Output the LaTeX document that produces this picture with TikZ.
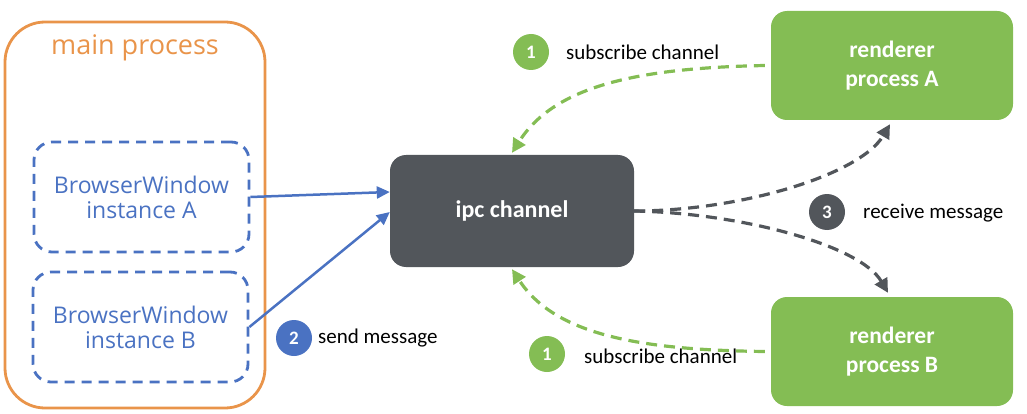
\documentclass[tikz,border=0pt]{standalone}
\usepackage{fontspec}
\setmainfont{Carlito}
\newfontfamily\segoe{Open Sans}
\usetikzlibrary{arrows.meta}
\definecolor{orangeC}{HTML}{E9944A}
\definecolor{blueC}{HTML}{4A72C2}
\definecolor{greenC}{HTML}{84BD54}
\definecolor{grayC}{HTML}{52565B}
\tikzset{
  mainbox/.style={draw=orangeC, line width=2.8pt, rounded corners=40pt},
  winbox/.style={draw=blueC, line width=2.8pt, dash pattern=on 10pt off 7pt, rounded corners=18pt, minimum width=215pt, minimum height=110pt, align=center, text=blueC, font=\segoe\fontsize{23}{25}\selectfont},
  ipcbox/.style={fill=grayC, rounded corners=16pt, minimum width=244pt, minimum height=112pt, text=white, font=\bfseries\fontsize{24}{26}\selectfont},
  rendbox/.style={fill=greenC, rounded corners=16pt, minimum width=242pt, minimum height=109pt, align=center, text=white, font=\bfseries\fontsize{23.5}{29}\selectfont},
  badge/.style={circle, minimum size=36pt, inner sep=0pt, text=white, font=\bfseries\fontsize{19}{20}\selectfont},
  lbl/.style={anchor=west, inner sep=0pt, font=\fontsize{21}{22}\selectfont},
  tip/.style={-{Triangle[length=14pt,width=14pt]}},
  greendash/.style={tip, draw=greenC, line width=3.2pt, dash pattern=on 11pt off 7pt},
  graydash/.style={tip, draw=grayC, line width=3.2pt, dash pattern=on 11pt off 7pt},
  bluearrow/.style={-{Triangle[length=13pt,width=12pt]}, draw=blueC, line width=2.5pt},
}
\begin{document}
\begin{tikzpicture}[x=1pt,y=-1pt]
\useasboundingbox (0,0) rectangle (1027,414);
\draw[mainbox] (5,22) rectangle (265,408);
\node[text=orangeC, font=\segoe\fontsize{27}{30}\selectfont] (mainlbl) at (135,48) {main process};
\node[winbox] (winA) at (141.5,197) {BrowserWindow\\instance A};
\node[winbox] (winB) at (140.5,327) {BrowserWindow\\instance B};
\node[ipcbox] (ipc) at (512,211) {ipc channel};
\node[rendbox] (rendA) at (892,65.5) {renderer\\process A};
\node[rendbox] (rendB) at (892,351.5) {renderer\\process B};
\node[badge, fill=greenC] (b1t) at (531,52) {1};
\node[lbl] (l1t) at (566,52) {subscribe channel};
\node[badge, fill=greenC] (b1b) at (547,354) {1};
\node[lbl] (l1b) at (584,356) {subscribe channel};
\node[badge, fill=blueC] (b2) at (294,338) {2};
\node[lbl] (l2) at (318,338) {send message};
\node[badge, fill=grayC] (b3) at (827,212) {3};
\node[lbl] (l3) at (863,213) {receive message};
\coordinate (ipcA) at ([yshift=19pt]ipc.west);
\coordinate (ipcB) at ([yshift=-1pt]ipc.west);
\draw[bluearrow] (winA.east) -- (ipcA);
\draw[bluearrow] (winB.east) -- (ipcB);
\draw[greendash] ([xshift=-6pt]rendA.west) .. controls (640,68) and (555,85) .. ([yshift=2pt]ipc.north);
\draw[greendash] ([xshift=-6pt]rendB.west) .. controls (640,350) and (555,335) .. ([yshift=-2pt]ipc.south);
\draw[graydash] (ipc.east) .. controls (740,211) and (860,175) .. ([xshift=-2pt,yshift=-4pt]rendA.south);
\draw[graydash] (ipc.east) .. controls (740,213) and (860,245) .. ([xshift=-4pt,yshift=4pt]rendB.north);
\end{tikzpicture}
\end{document}
